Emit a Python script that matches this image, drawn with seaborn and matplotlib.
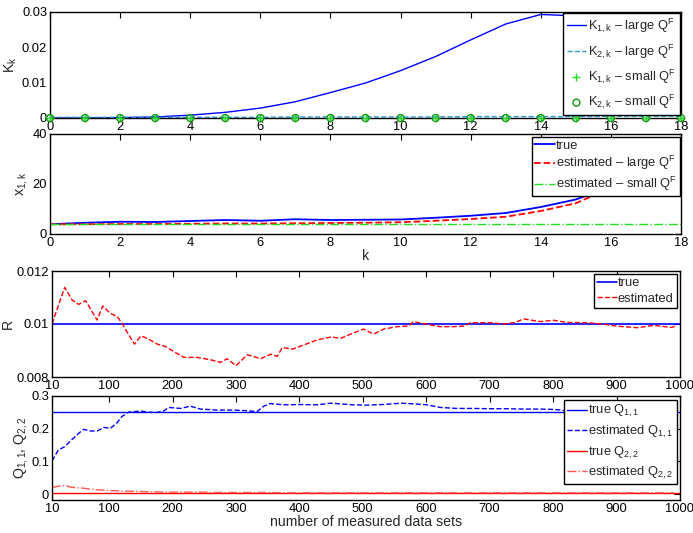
import numpy as np
import pandas as pd
import matplotlib
matplotlib.use("Agg")
import matplotlib.pyplot as plt
import seaborn as sns

# ---- data: gain K_k over time step k ----
k = list(range(19))
k1_large = [0, 0, 0.0001, 0.0003, 0.0008, 0.0016, 0.0028, 0.0046, 0.0072, 0.0099,
            0.0134, 0.0174, 0.0221, 0.0266, 0.0293, 0.0289, 0.0262, 0.0212, 0.0141]
k2_large = [0.0002, 0.0002, 0.0002, 0.0002, 0.0002, 0.0002, 0.0002, 0.0003, 0.0003, 0.0003,
            0.0003, 0.0003, 0.0004, 0.0004, 0.0004, 0.0004, 0.0005, 0.0005, 0.0005]
k1_small = [0] * 19
k2_small = [0] * 19

# ---- data: state x_{1,k} ----
x_true = [3.9, 4.5, 4.9, 4.8, 5.2, 5.6, 5.3, 5.9, 5.6, 5.7,
          5.8, 6.5, 7.3, 8.4, 10.8, 13.8, 19.0, 26.0, 35.0]
x_est_large = [3.9, 3.9, 4.0, 4.0, 4.1, 4.2, 4.2, 4.3, 4.4, 4.5,
               4.7, 5.3, 6.0, 6.9, 9.2, 12.3, 18.5, 25.5, 35.0]
x_est_small = [3.9] * 19

# ---- data: R estimate vs number of data sets ----
r_n = [10, 30, 42, 52, 63, 81, 90, 102, 113, 122, 131, 140, 150, 160, 176, 189, 202, 218,
       239, 260, 276, 286, 300, 318, 339, 355, 365, 373, 389, 407, 428, 450, 465, 481,
       501, 517, 533, 554, 572, 580, 601, 622, 643, 659, 670, 701, 722, 738, 754, 780,
       801, 822, 854, 880, 901, 933, 959, 986, 994]
r_est = [0.0100, 0.01138, 0.0109, 0.01074, 0.01088, 0.01015, 0.01068, 0.0104, 0.01028,
         0.00996, 0.00959, 0.00924, 0.00955, 0.00946, 0.00924, 0.00915, 0.00896, 0.00874,
         0.00874, 0.00865, 0.00855, 0.00869, 0.00843, 0.00884, 0.00869, 0.00886, 0.00878,
         0.00911, 0.00905, 0.00921, 0.0094, 0.00951, 0.00946, 0.00962,
         0.00981, 0.00962, 0.00981, 0.0099, 0.00992, 0.01009, 0.00999, 0.0099, 0.0099,
         0.00992, 0.01005, 0.01005, 0.0100, 0.01005, 0.01019, 0.01009, 0.01014, 0.01006,
         0.01005, 0.00999, 0.00992, 0.00986, 0.00995, 0.00987, 0.00992]
r_true = 0.01

# ---- data: Q estimates vs number of data sets ----
q_n = [10, 20, 30, 41, 52, 60, 71, 81, 92, 102, 112, 120, 131, 150, 165, 176, 186, 194,
       213, 228, 244, 270, 296, 318, 333, 344, 354, 375, 402, 428, 449, 464, 485, 506,
       533, 559, 580, 601, 622, 648, 675, 701, 727, 754, 780, 801, 822, 860, 900, 950, 990]
q11_est = [0.1016, 0.135, 0.145, 0.166, 0.186, 0.198, 0.193, 0.193, 0.204, 0.201, 0.217,
           0.237, 0.251, 0.254, 0.25, 0.25, 0.254, 0.265, 0.262, 0.269, 0.26, 0.257, 0.257,
           0.255, 0.252, 0.269, 0.277, 0.273, 0.274, 0.273, 0.278, 0.276, 0.273, 0.272,
           0.274, 0.278, 0.276, 0.273, 0.265, 0.262, 0.262, 0.261, 0.261, 0.26, 0.26, 0.259,
           0.255, 0.255, 0.254, 0.254, 0.254]
q22_est = [0.020, 0.024, 0.0264, 0.021, 0.019, 0.018, 0.015, 0.013, 0.012, 0.011, 0.010,
           0.009, 0.009, 0.008, 0.007, 0.007, 0.006, 0.006, 0.006, 0.006, 0.006, 0.005,
           0.005, 0.005, 0.005, 0.005, 0.005, 0.004, 0.004, 0.004, 0.004, 0.004, 0.004,
           0.004, 0.004, 0.004, 0.004, 0.004, 0.004, 0.004, 0.004, 0.004, 0.004, 0.004,
           0.004, 0.004, 0.004, 0.004, 0.004, 0.004, 0.004]
q11_true = 0.25
q22_true = 0.002

# ---- style ----
sns.set_theme(style="white")
plt.rcParams["font.family"] = ["Liberation Sans", "DejaVu Sans"]
plt.rcParams["mathtext.fontset"] = "custom"
plt.rcParams["mathtext.rm"] = "Liberation Sans"
plt.rcParams["mathtext.it"] = "Liberation Sans"
plt.rcParams["mathtext.default"] = "regular"

BLUE = "#0000ff"
RED = "#ff0000"
CYAN = "#2a9fd6"
LIME = "#22dd22"
GREEN = "#119911"
TICK_FS = 9.3
LEG_FS = 9.3
LAB_FS = 10.2

W, H = 693, 533
fig = plt.figure(figsize=(W / 100, H / 100), dpi=100)


def add_ax(left, right, top, bottom):
    return fig.add_axes([left / W, 1 - bottom / H, (right - left) / W, (bottom - top) / H])


def matlab_style(ax):
    for s in ax.spines.values():
        s.set_visible(True)
        s.set_color("black")
        s.set_linewidth(1.0)
    ax.tick_params(direction="in", length=4, width=0.8, top=True, right=True,
                   labelsize=TICK_FS, pad=2, colors="black")
    ax.grid(False)


def style_legend(leg):
    fr = leg.get_frame()
    fr.set_edgecolor("black")
    fr.set_linewidth(1.0)
    fr.set_boxstyle("square", pad=0)


ax1 = add_ax(50, 681, 12, 118)
ax2 = add_ax(50, 681, 134, 234)
ax3 = add_ax(52, 680, 271, 377)
ax4 = add_ax(52, 680, 396, 500)

# panel 1: gains
df_k = pd.DataFrame({"k": k, "k1_large": k1_large, "k2_large": k2_large,
                     "k1_small": k1_small, "k2_small": k2_small})
sns.lineplot(data=df_k, x="k", y="k1_large", ax=ax1, color=BLUE, lw=1,
             label=r"K$_{1,k}$ – large Q$^F$")
sns.lineplot(data=df_k, x="k", y="k2_large", ax=ax1, color=CYAN, lw=1, linestyle="--",
             label=r"K$_{2,k}$ – large Q$^F$")
sns.scatterplot(data=df_k, x="k", y="k1_small", ax=ax1, marker="+", color=LIME, s=30,
                linewidth=1, label=r"K$_{1,k}$ – small Q$^F$", clip_on=False, zorder=4)
sns.scatterplot(data=df_k, x="k", y="k2_small", ax=ax1, marker="o", facecolor="none",
                edgecolor=GREEN, s=25, linewidth=1, label=r"K$_{2,k}$ – small Q$^F$",
                clip_on=False, zorder=4)
ax1.set_xlim(0, 18)
ax1.set_ylim(0, 0.03)
ax1.set_xticks(range(0, 19, 2))
ax1.set_yticks([0, 0.01, 0.02, 0.03])
ax1.set_yticklabels(["0", "0.01", "0.02", "0.03"])
ax1.set_xlabel("")
ax1.set_ylabel(r"K$_k$", fontsize=LAB_FS, labelpad=2)
matlab_style(ax1)
leg = ax1.legend(loc="upper right", bbox_to_anchor=(0.998, 0.99), borderaxespad=0,
                 fontsize=LEG_FS, handlelength=1.5, handletextpad=0.15, labelspacing=0.55,
                 borderpad=0.3, fancybox=False, framealpha=1)
style_legend(leg)

# panel 2: state
df_x = pd.DataFrame({"k": k, "true": x_true, "large": x_est_large, "small": x_est_small})
sns.lineplot(data=df_x, x="k", y="true", ax=ax2, color=BLUE, lw=1.3, label="true")
sns.lineplot(data=df_x, x="k", y="large", ax=ax2, color=RED, lw=1.3, linestyle="--",
             label=r"estimated – large Q$^F$")
sns.lineplot(data=df_x, x="k", y="small", ax=ax2, color=LIME, lw=1, linestyle="-.",
             label=r"estimated – small Q$^F$")
ax2.set_xlim(0, 18)
ax2.set_ylim(0, 40)
ax2.set_xticks(range(0, 19, 2))
ax2.set_yticks([0, 20, 40])
ax2.set_xlabel("k", fontsize=LAB_FS, labelpad=0)
ax2.set_ylabel(r"x$_{1,k}$", fontsize=LAB_FS, labelpad=2)
matlab_style(ax2)
leg = ax2.legend(loc="upper right", bbox_to_anchor=(0.998, 0.97), borderaxespad=0,
                 fontsize=LEG_FS, handlelength=1.6, handletextpad=0.1, labelspacing=0.2,
                 borderpad=0.2, fancybox=False, framealpha=1)
style_legend(leg)

# panel 3: R
df_r = pd.DataFrame({"n": r_n, "est": r_est})
ax3.axhline(r_true, color=BLUE, lw=1.2, label="true")
sns.lineplot(data=df_r, x="n", y="est", ax=ax3, color=RED, lw=1, linestyle="--",
             label="estimated")
ax3.set_xlim(10, 1000)
ax3.set_ylim(0.008, 0.012)
ax3.set_xticks([10, 100, 200, 300, 400, 500, 600, 700, 800, 900, 1000])
ax3.set_xticklabels(["10", "100", "200", "300", "400", "500", "600", "700", "800", "900", "1000"])
ax3.set_yticks([0.008, 0.01, 0.012])
ax3.set_yticklabels(["0.008", "0.01", "0.012"])
ax3.set_xlabel("")
ax3.set_ylabel("R", fontsize=LAB_FS, labelpad=1)
matlab_style(ax3)
leg = ax3.legend(loc="upper right", bbox_to_anchor=(0.995, 0.97), borderaxespad=0,
                 fontsize=LEG_FS, handlelength=1.5, handletextpad=0.1, labelspacing=0.25,
                 borderpad=0.25, fancybox=False, framealpha=1)
style_legend(leg)

# panel 4: Q
df_q = pd.DataFrame({"n": q_n, "q11": q11_est, "q22": q22_est})
ax4.axhline(q11_true, color=BLUE, lw=1, label=r"true Q$_{1,1}$")
sns.lineplot(data=df_q, x="n", y="q11", ax=ax4, color=BLUE, lw=1, linestyle="--",
             label=r"estimated Q$_{1,1}$")
ax4.axhline(q22_true, color=RED, lw=1, label=r"true Q$_{2,2}$")
sns.lineplot(data=df_q, x="n", y="q22", ax=ax4, color="#ff5555", lw=1, linestyle="-.",
             label=r"estimated Q$_{2,2}$")
ax4.set_xlim(10, 1000)
ax4.set_ylim(-0.018, 0.3)
ax4.set_xticks([10, 100, 200, 300, 400, 500, 600, 700, 800, 900, 1000])
ax4.set_xticklabels(["10", "100", "200", "300", "400", "500", "600", "700", "800", "900", "1000"])
ax4.set_yticks([0, 0.1, 0.2, 0.3])
ax4.set_yticklabels(["0", "0.1", "0.2", "0.3"])
ax4.set_xlabel("number of measured data sets", fontsize=LAB_FS, labelpad=0)
ax4.set_ylabel(r"Q$_{1,1}$, Q$_{2,2}$", fontsize=LAB_FS, labelpad=1)
matlab_style(ax4)
leg = ax4.legend(loc="upper right", bbox_to_anchor=(0.995, 0.96), borderaxespad=0,
                 fontsize=LEG_FS, handlelength=1.5, handletextpad=0.15, labelspacing=0.35,
                 borderpad=0.25, fancybox=False, framealpha=1)
style_legend(leg)

fig.savefig("out.png", dpi=100)
